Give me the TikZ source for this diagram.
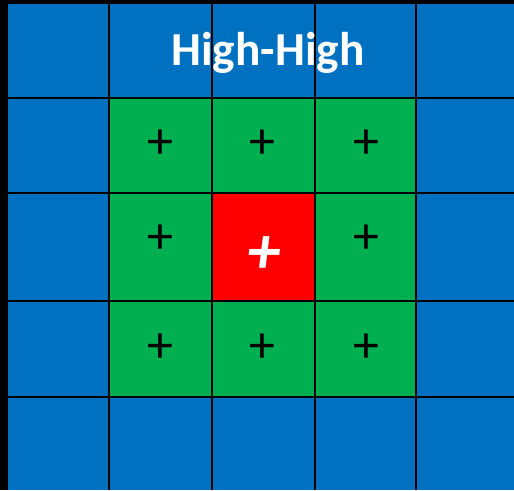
\documentclass[tikz,border=0pt]{standalone}
\usepackage{fontspec}
\setmainfont{Carlito}
\definecolor{cblue}{HTML}{0070C0}
\definecolor{cgreen}{HTML}{00B050}
\definecolor{cred}{HTML}{FF0000}
\tikzset{
  gridline/.style={draw=black, line width=1.5pt},
  plusmark/.style={inner sep=0pt, anchor=center, text=black, font=\fontsize{39}{39}\selectfont},
  bigplus/.style={inner sep=0pt, anchor=center, text=white, font=\fontsize{50}{50}\selectfont\bfseries\itshape},
  titletext/.style={inner sep=0pt, anchor=center, text=white, font=\fontsize{35.5}{35.5}\selectfont\bfseries}
}
\begin{document}
\begin{tikzpicture}[x=0.75pt,y=-0.75pt]
\useasboundingbox (0,0) rectangle (514,490);
% background blue
\fill[cblue] (0,0) rectangle (514,490);
% green block
\fill[cgreen] (109,98) rectangle (416,397);
% red centre
\fill[cred] (212,193) rectangle (315,301);
% left and top black edges
\fill[black] (0,0) rectangle (7.5,490);
\fill[black] (0,0) rectangle (514,4);
% grid lines
\foreach \x in {109,212,315,416} \draw[gridline] (\x,0) -- (\x,490);
\foreach \y in {98,193,301,397} \draw[gridline] (0,\y) -- (514,\y);
% title
\node[titletext] (title) at (268,53) {High-High};
% plus marks
\node[plusmark] (p11) at (160,144) {+};
\node[plusmark] (p12) at (262,144) {+};
\node[plusmark] (p13) at (366,144) {+};
\node[plusmark] (p21) at (160,239) {+};
\node[plusmark] (p23) at (366,239) {+};
\node[plusmark] (p31) at (160,348) {+};
\node[plusmark] (p32) at (262,348) {+};
\node[plusmark] (p33) at (366,348) {+};
\node[bigplus] (pc) at (264,255) {+};
\end{tikzpicture}
\end{document}
